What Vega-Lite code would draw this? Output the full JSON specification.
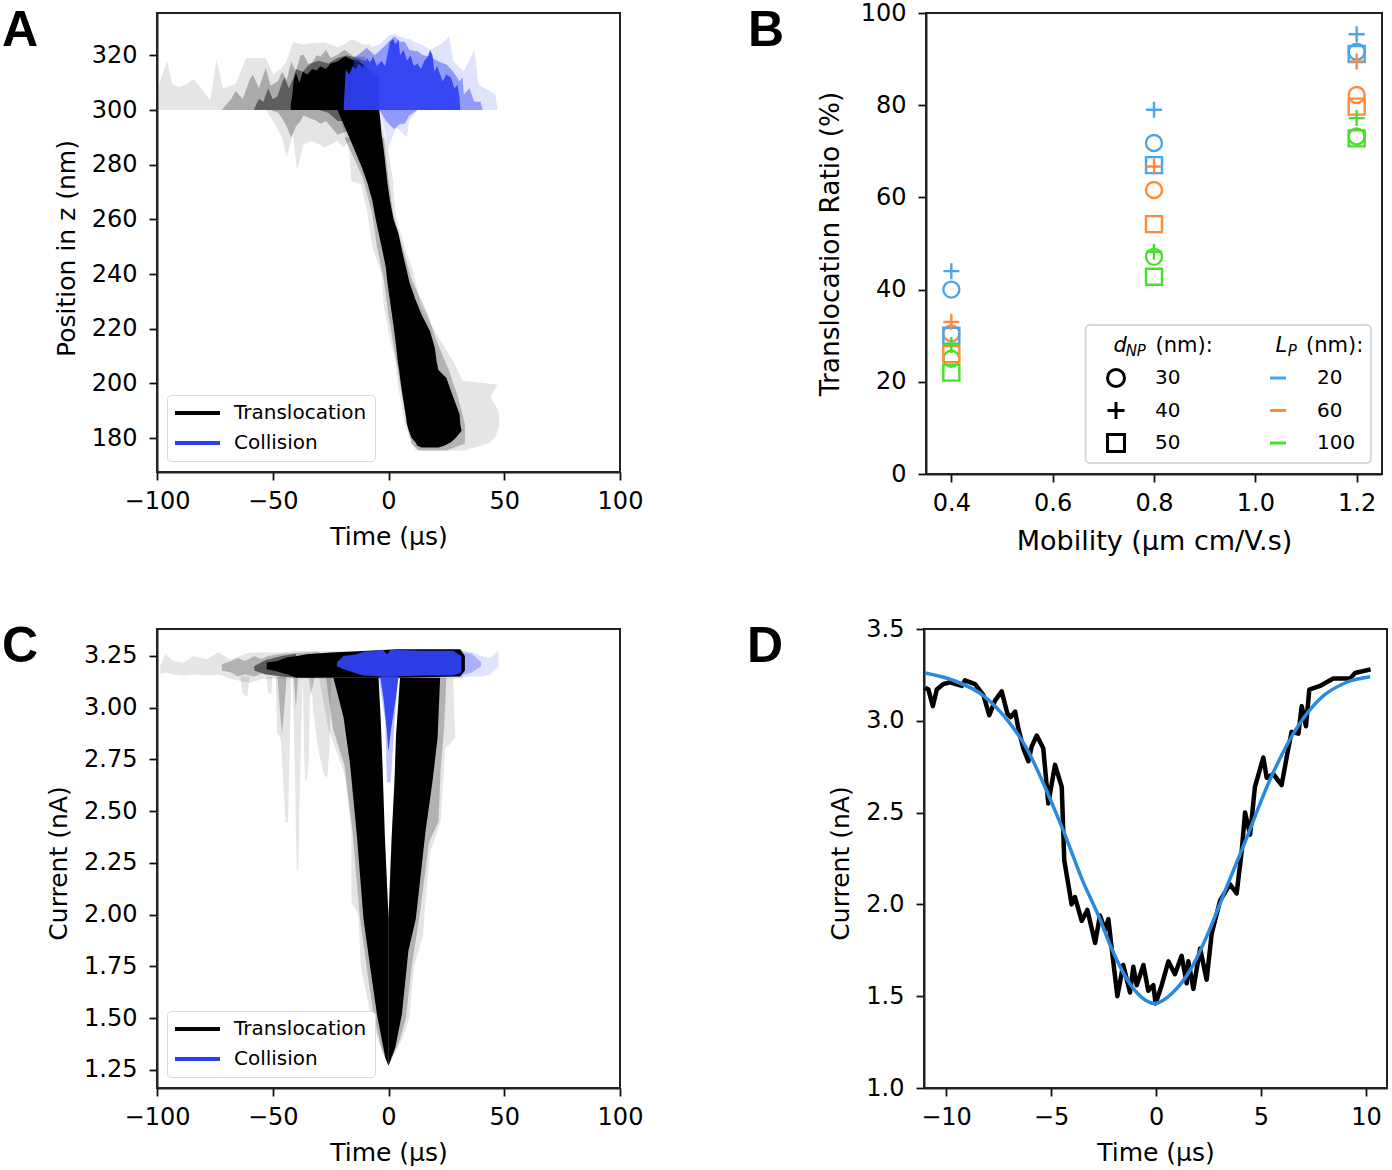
{"$schema":"https://vega.github.io/schema/vega-lite/v6.json","padding":{"left":1,"top":0,"right":0,"bottom":0},"background":"white","spacing":616,"bounds":"flush","resolve":{"scale":{"color":"independent","shape":"independent"},"legend":{"color":"independent","shape":"independent"}},
"config":{"font":"DejaVu Sans","view":{"stroke":"#222222","strokeWidth":2},"axis":{"grid":false,"domainColor":"#222222","domainWidth":2,"tickColor":"#111111","tickSize":8,"tickWidth":1.8,"labelFontSize":24,"titleFontSize":25,"labelColor":"black","titleColor":"black","titleFontWeight":"normal","labelPadding":9,"labelFlush":false,"labelOverlap":false},"axisY":{"labelPadding":12},"title":{"font":"Liberation Sans","fontSize":50,"fontWeight":"bold","anchor":"start","frame":"group","baseline":"alphabetic"}},
"vconcat":[
{"hconcat":[
{"title":{"text":"A","dx":-155,"offset":-43},"width":463,"height":459,
"encoding":{"x":{"field":"t","type":"quantitative","title":"Time (μs)","scale":{"domain":[-100,100],"nice":false},"axis":{"values":[-100,-50,0,50,100],"titlePadding":11}},"y":{"field":"z","type":"quantitative","title":"Position in z (nm)","scale":{"domain":[167.6,335.5],"nice":false},"axis":{"values":[180,200,220,240,260,280,300,320],"titlePadding":12,"titleY":235}},"color":{"field":"g","type":"nominal","scale":{"domain":["Translocation","Collision"],"range":["#000000","#2f40f2"]},"legend":{"title":null,"orient":"none","legendX":10,"legendY":382,"fillColor":"white","strokeColor":"#d3dcdc","cornerRadius":4,"padding":8,"labelFontSize":20,"labelColor":"black","symbolType":"M-1,-0.085H1V0.085H-1Z","symbolSize":2025,"symbolStrokeWidth":0,"symbolOpacity":1,"clipHeight":20,"rowPadding":10,"labelOffset":14}}},
"layer":[
{"mark":{"type":"area","fillOpacity":0.1},"encoding":{"y2":{"field":"z2"}},"data":{"values":[
{"g":"Translocation","t":-99.6,"z":300,"z2":300},{"g":"Translocation","t":-99,"z":310,"z2":300},{"g":"Translocation","t":-95.6,"z":318,"z2":300},{"g":"Translocation","t":-93.4,"z":309.5,"z2":300},{"g":"Translocation","t":-90.6,"z":308.3,"z2":300},{"g":"Translocation","t":-87,"z":309.5,"z2":300},{"g":"Translocation","t":-84.3,"z":311.4,"z2":300},{"g":"Translocation","t":-80.7,"z":307.8,"z2":300},{"g":"Translocation","t":-77,"z":303.5,"z2":300},{"g":"Translocation","t":-74.3,"z":318.5,"z2":300},{"g":"Translocation","t":-71.5,"z":308,"z2":300},{"g":"Translocation","t":-66,"z":309.5,"z2":300},{"g":"Translocation","t":-61.5,"z":319,"z2":300},{"g":"Translocation","t":-57,"z":319,"z2":300},{"g":"Translocation","t":-53,"z":319,"z2":300},{"g":"Translocation","t":-49.8,"z":313,"z2":296},{"g":"Translocation","t":-46,"z":315.6,"z2":290},{"g":"Translocation","t":-44,"z":318,"z2":282.7},{"g":"Translocation","t":-41.3,"z":324.8,"z2":291.2},{"g":"Translocation","t":-39.5,"z":324.5,"z2":277.8},{"g":"Translocation","t":-36.7,"z":324,"z2":287.5},{"g":"Translocation","t":-33,"z":324.5,"z2":288.7},{"g":"Translocation","t":-27.6,"z":324.8,"z2":286.3},{"g":"Translocation","t":-22,"z":323,"z2":288.7},{"g":"Translocation","t":-19.4,"z":324,"z2":286.3},{"g":"Translocation","t":-15.8,"z":326,"z2":290},{"g":"Translocation","t":-11,"z":324,"z2":298},{"g":"Translocation","t":-7.5,"z":323.9,"z2":300}]}},
{"mark":{"type":"area","fillOpacity":0.25},"encoding":{"y2":{"field":"z2"}},"data":{"values":[
{"g":"Translocation","t":-72,"z":300,"z2":300},{"g":"Translocation","t":-68,"z":304,"z2":300},{"g":"Translocation","t":-66,"z":307,"z2":300},{"g":"Translocation","t":-63,"z":304,"z2":300},{"g":"Translocation","t":-60,"z":311,"z2":300},{"g":"Translocation","t":-58.6,"z":313,"z2":300},{"g":"Translocation","t":-56,"z":308,"z2":300},{"g":"Translocation","t":-53,"z":315.4,"z2":300},{"g":"Translocation","t":-51,"z":309,"z2":300},{"g":"Translocation","t":-47.7,"z":310.5,"z2":299},{"g":"Translocation","t":-46,"z":314,"z2":297},{"g":"Translocation","t":-44,"z":311,"z2":294},{"g":"Translocation","t":-42,"z":317.8,"z2":290},{"g":"Translocation","t":-40,"z":314,"z2":294},{"g":"Translocation","t":-38,"z":320,"z2":296},{"g":"Translocation","t":-36.7,"z":320.2,"z2":298},{"g":"Translocation","t":-34,"z":316,"z2":297},{"g":"Translocation","t":-31,"z":320,"z2":296},{"g":"Translocation","t":-29.4,"z":319.6,"z2":295},{"g":"Translocation","t":-27,"z":322,"z2":296},{"g":"Translocation","t":-25,"z":319,"z2":294},{"g":"Translocation","t":-22,"z":320.2,"z2":291},{"g":"Translocation","t":-19,"z":322,"z2":292},{"g":"Translocation","t":-15,"z":319.6,"z2":293},{"g":"Translocation","t":-10,"z":319.6,"z2":300}]}},
{"mark":{"type":"area","fillOpacity":0.45},"encoding":{"y2":{"field":"z2"}},"data":{"values":[
{"g":"Translocation","t":-58,"z":300.5,"z2":300},{"g":"Translocation","t":-56,"z":304,"z2":300},{"g":"Translocation","t":-54,"z":303,"z2":300},{"g":"Translocation","t":-52,"z":308,"z2":300},{"g":"Translocation","t":-50,"z":304,"z2":300},{"g":"Translocation","t":-48,"z":305,"z2":300},{"g":"Translocation","t":-46,"z":310,"z2":300},{"g":"Translocation","t":-45,"z":312,"z2":300},{"g":"Translocation","t":-43,"z":308,"z2":300},{"g":"Translocation","t":-41,"z":312,"z2":300},{"g":"Translocation","t":-40,"z":315,"z2":300},{"g":"Translocation","t":-37,"z":314,"z2":300},{"g":"Translocation","t":-34,"z":317,"z2":300},{"g":"Translocation","t":-30,"z":318,"z2":300},{"g":"Translocation","t":-26,"z":317,"z2":299},{"g":"Translocation","t":-22,"z":319,"z2":296},{"g":"Translocation","t":-18,"z":320,"z2":296},{"g":"Translocation","t":-14,"z":319,"z2":298},{"g":"Translocation","t":-10,"z":318,"z2":300}]}},
{"mark":{"type":"area","fillOpacity":1},"encoding":{"y2":{"field":"z2"}},"data":{"values":[
{"g":"Translocation","t":-42.2,"z":302,"z2":300},{"g":"Translocation","t":-41.5,"z":306,"z2":300},{"g":"Translocation","t":-41,"z":310.5,"z2":300},{"g":"Translocation","t":-40,"z":313.6,"z2":300},{"g":"Translocation","t":-38.5,"z":310,"z2":300},{"g":"Translocation","t":-37,"z":314,"z2":300},{"g":"Translocation","t":-35,"z":313,"z2":300},{"g":"Translocation","t":-33,"z":315,"z2":300},{"g":"Translocation","t":-31,"z":314.5,"z2":300},{"g":"Translocation","t":-29.4,"z":316,"z2":300},{"g":"Translocation","t":-27,"z":315,"z2":300},{"g":"Translocation","t":-25,"z":317,"z2":300},{"g":"Translocation","t":-22,"z":317.8,"z2":300},{"g":"Translocation","t":-20,"z":319,"z2":300},{"g":"Translocation","t":-18.5,"z":319.6,"z2":300},{"g":"Translocation","t":-16,"z":318.5,"z2":300},{"g":"Translocation","t":-13,"z":318,"z2":300},{"g":"Translocation","t":-10,"z":316,"z2":300},{"g":"Translocation","t":-4,"z":312,"z2":300}]}},
{"mark":{"type":"area","orient":"horizontal","fillOpacity":0.1},"encoding":{"x2":{"field":"t2"}},"data":{"values":[
{"g":"Translocation","z":300,"t":-22,"t2":-4},{"g":"Translocation","z":285,"t":-17,"t2":0},{"g":"Translocation","z":274,"t":-16,"t2":2},{"g":"Translocation","z":273,"t":-12,"t2":2},{"g":"Translocation","z":262,"t":-9,"t2":3},{"g":"Translocation","z":250,"t":-7,"t2":7},{"g":"Translocation","z":240,"t":-3,"t2":11},{"g":"Translocation","z":228,"t":-2,"t2":14},{"g":"Translocation","z":215,"t":1,"t2":23},{"g":"Translocation","z":208,"t":3,"t2":28},{"g":"Translocation","z":201,"t":4,"t2":32},{"g":"Translocation","z":199.6,"t":4,"t2":47},{"g":"Translocation","z":195,"t":5,"t2":44},{"g":"Translocation","z":190,"t":6,"t2":47.5},{"g":"Translocation","z":185,"t":7,"t2":48},{"g":"Translocation","z":180,"t":9,"t2":46},{"g":"Translocation","z":178,"t":10,"t2":43},{"g":"Translocation","z":175.5,"t":12,"t2":33}]}},
{"mark":{"type":"area","orient":"horizontal","fillOpacity":0.22},"encoding":{"x2":{"field":"t2"}},"data":{"values":[
{"g":"Translocation","z":290,"t":-19,"t2":-2},{"g":"Translocation","z":275,"t":-11,"t2":0},{"g":"Translocation","z":262,"t":-7,"t2":2},{"g":"Translocation","z":250,"t":-5,"t2":6},{"g":"Translocation","z":238,"t":-2,"t2":10},{"g":"Translocation","z":225,"t":0,"t2":17},{"g":"Translocation","z":215,"t":2,"t2":21},{"g":"Translocation","z":205,"t":4,"t2":26},{"g":"Translocation","z":195,"t":6,"t2":30},{"g":"Translocation","z":185,"t":8,"t2":33},{"g":"Translocation","z":178,"t":10,"t2":33},{"g":"Translocation","z":175.5,"t":13,"t2":25}]}},
{"mark":{"type":"area","orient":"horizontal","fillOpacity":1},"encoding":{"x2":{"field":"t2"}},"data":{"values":[
{"g":"Translocation","z":300,"t":-22,"t2":-4},{"g":"Translocation","z":296,"t":-20,"t2":-3.5},{"g":"Translocation","z":291.2,"t":-17.6,"t2":-3},{"g":"Translocation","z":285.1,"t":-14.5,"t2":-2},{"g":"Translocation","z":279,"t":-11.5,"t2":-1.2},{"g":"Translocation","z":273,"t":-9,"t2":-0.4},{"g":"Translocation","z":266.9,"t":-7,"t2":0.6},{"g":"Translocation","z":260,"t":-5.5,"t2":2.2},{"g":"Translocation","z":254.8,"t":-4.2,"t2":4.3},{"g":"Translocation","z":248,"t":-2.5,"t2":6},{"g":"Translocation","z":242.7,"t":-1.2,"t2":7.5},{"g":"Translocation","z":237.2,"t":-0.5,"t2":9},{"g":"Translocation","z":231,"t":0.5,"t2":11.5},{"g":"Translocation","z":225.1,"t":1.5,"t2":14.3},{"g":"Translocation","z":219,"t":2.5,"t2":18},{"g":"Translocation","z":213,"t":3.4,"t2":20},{"g":"Translocation","z":208,"t":4,"t2":20.8},{"g":"Translocation","z":205,"t":4.6,"t2":21.5},{"g":"Translocation","z":202,"t":5,"t2":25},{"g":"Translocation","z":196,"t":6,"t2":27.5},{"g":"Translocation","z":188.7,"t":7.4,"t2":30.7},{"g":"Translocation","z":185,"t":8,"t2":31},{"g":"Translocation","z":182.7,"t":8.8,"t2":31.6},{"g":"Translocation","z":180,"t":10,"t2":29},{"g":"Translocation","z":178.5,"t":11.6,"t2":27},{"g":"Translocation","z":177.2,"t":12.5,"t2":24},{"g":"Translocation","z":176.6,"t":14.3,"t2":21.6}]}},
{"mark":{"type":"area","fillOpacity":0.15},"encoding":{"y2":{"field":"z2"}},"data":{"values":[
{"g":"Collision","t":-7.5,"z":323,"z2":300},{"g":"Collision","t":-4,"z":324,"z2":300},{"g":"Collision","t":-1.2,"z":326,"z2":291},{"g":"Collision","t":-0.3,"z":327,"z2":285.7},{"g":"Collision","t":2.5,"z":328,"z2":292},{"g":"Collision","t":3.4,"z":327.5,"z2":293.6},{"g":"Collision","t":8,"z":326,"z2":290},{"g":"Collision","t":8.8,"z":326,"z2":296},{"g":"Collision","t":12.5,"z":324.5,"z2":300},{"g":"Collision","t":14.3,"z":324,"z2":300},{"g":"Collision","t":18,"z":322,"z2":300},{"g":"Collision","t":23.4,"z":324.5,"z2":300},{"g":"Collision","t":26.2,"z":327,"z2":300},{"g":"Collision","t":28,"z":317.8,"z2":300},{"g":"Collision","t":32.5,"z":314.2,"z2":300},{"g":"Collision","t":37.1,"z":322,"z2":300},{"g":"Collision","t":38.9,"z":309.3,"z2":300},{"g":"Collision","t":41.7,"z":308,"z2":300},{"g":"Collision","t":46.2,"z":305.7,"z2":300},{"g":"Collision","t":47.1,"z":300,"z2":300}]}},
{"mark":{"type":"area","fillOpacity":0.45},"encoding":{"y2":{"field":"z2"}},"data":{"values":[
{"g":"Collision","t":-15,"z":319,"z2":300},{"g":"Collision","t":-12,"z":321,"z2":300},{"g":"Collision","t":-9.4,"z":322.7,"z2":300},{"g":"Collision","t":-6,"z":320,"z2":300},{"g":"Collision","t":-4,"z":321.5,"z2":300},{"g":"Collision","t":-1,"z":324,"z2":296},{"g":"Collision","t":2.5,"z":327,"z2":293},{"g":"Collision","t":5,"z":325,"z2":295},{"g":"Collision","t":7,"z":325,"z2":295},{"g":"Collision","t":9,"z":322,"z2":298},{"g":"Collision","t":12.5,"z":321.5,"z2":300},{"g":"Collision","t":15,"z":320,"z2":300},{"g":"Collision","t":18,"z":319.6,"z2":300},{"g":"Collision","t":21,"z":318,"z2":300},{"g":"Collision","t":25.2,"z":316.6,"z2":300},{"g":"Collision","t":28,"z":314,"z2":300},{"g":"Collision","t":30.7,"z":310.5,"z2":300},{"g":"Collision","t":32,"z":312,"z2":300},{"g":"Collision","t":32.5,"z":305.7,"z2":300},{"g":"Collision","t":35,"z":308,"z2":300},{"g":"Collision","t":37,"z":303,"z2":300},{"g":"Collision","t":39.8,"z":303,"z2":300},{"g":"Collision","t":40.7,"z":300,"z2":300}]}},
{"mark":{"type":"area","fillOpacity":0.92},"encoding":{"y2":{"field":"z2"}},"data":{"values":[
{"g":"Collision","t":-19.4,"z":300,"z2":300},{"g":"Collision","t":-18.5,"z":315,"z2":300},{"g":"Collision","t":-17,"z":313,"z2":300},{"g":"Collision","t":-15.5,"z":316,"z2":300},{"g":"Collision","t":-14,"z":315,"z2":300},{"g":"Collision","t":-13,"z":317,"z2":300},{"g":"Collision","t":-11,"z":315.5,"z2":300},{"g":"Collision","t":-9.4,"z":319,"z2":300},{"g":"Collision","t":-8,"z":317.5,"z2":300},{"g":"Collision","t":-6.6,"z":319.6,"z2":300},{"g":"Collision","t":-5,"z":316,"z2":300},{"g":"Collision","t":-3,"z":318,"z2":300},{"g":"Collision","t":-1.5,"z":316,"z2":300},{"g":"Collision","t":-0.5,"z":320,"z2":300},{"g":"Collision","t":0.6,"z":325,"z2":300},{"g":"Collision","t":2,"z":326,"z2":300},{"g":"Collision","t":3,"z":324,"z2":300},{"g":"Collision","t":4.3,"z":325.7,"z2":300},{"g":"Collision","t":5,"z":320,"z2":300},{"g":"Collision","t":6.5,"z":322,"z2":300},{"g":"Collision","t":8,"z":318,"z2":300},{"g":"Collision","t":9.5,"z":320,"z2":300},{"g":"Collision","t":11,"z":316,"z2":300},{"g":"Collision","t":12.5,"z":317,"z2":300},{"g":"Collision","t":14,"z":315,"z2":300},{"g":"Collision","t":15.5,"z":318,"z2":300},{"g":"Collision","t":17,"z":319.5,"z2":300},{"g":"Collision","t":18,"z":322,"z2":300},{"g":"Collision","t":19,"z":320,"z2":300},{"g":"Collision","t":19.8,"z":314,"z2":300},{"g":"Collision","t":21,"z":316,"z2":300},{"g":"Collision","t":23.4,"z":310.5,"z2":300},{"g":"Collision","t":25,"z":313,"z2":300},{"g":"Collision","t":27,"z":311.8,"z2":300},{"g":"Collision","t":28.5,"z":308,"z2":300},{"g":"Collision","t":29.8,"z":309.3,"z2":300},{"g":"Collision","t":30.7,"z":304.5,"z2":300},{"g":"Collision","t":31,"z":300,"z2":300}]}}
]},
{"title":{"text":"B","dx":-178,"offset":-55},"width":456,"height":461,
"encoding":{"x":{"field":"m","type":"quantitative","title":"Mobility (μm cm/V.s)","scale":{"domain":[0.35,1.25],"nice":false},"axis":{"values":[0.4,0.6,0.8,1.0,1.2],"format":".1f","titlePadding":13,"titleFontSize":27}},"y":{"field":"r","type":"quantitative","title":"Translocation Ratio (%)","scale":{"domain":[0,100],"nice":false},"axis":{"values":[0,20,40,60,80,100],"titlePadding":16,"titleFontSize":26.4}}},
"layer":[
{"data":{"values":[{"m":0.665,"m2":1.228,"r":2.4,"r2":32.3}]},"mark":{"type":"rect","fill":"white","stroke":"#d3dcdc","strokeWidth":2,"cornerRadius":4},"encoding":{"x2":{"field":"m2"},"y2":{"field":"r2"}}},
{"data":{"values":[
{"m":0.4,"r":25,"dn":"30","lp":"100"},{"m":0.4,"r":30.5,"dn":"30","lp":"60"},{"m":0.4,"r":40,"dn":"30","lp":"20"},{"m":0.8,"r":47.1,"dn":"30","lp":"100"},{"m":0.8,"r":61.6,"dn":"30","lp":"60"},{"m":0.8,"r":71.8,"dn":"30","lp":"20"},{"m":1.2,"r":73.2,"dn":"30","lp":"100"},{"m":1.2,"r":82.2,"dn":"30","lp":"60"},
{"m":0.4,"r":22,"dn":"50","lp":"100"},{"m":0.4,"r":26,"dn":"50","lp":"60"},{"m":0.4,"r":30,"dn":"50","lp":"20"},{"m":0.8,"r":42.8,"dn":"50","lp":"100"},{"m":0.8,"r":54.2,"dn":"50","lp":"60"},{"m":0.8,"r":67,"dn":"50","lp":"20"},{"m":1.2,"r":72.8,"dn":"50","lp":"100"},{"m":1.2,"r":79.7,"dn":"50","lp":"60"},{"m":1.2,"r":91.1,"dn":"50","lp":"20"},{"m":1.2,"r":91.6,"dn":"30","lp":"20"},
{"m":0.4,"r":28,"dn":"40","lp":"100"},{"m":0.4,"r":33,"dn":"40","lp":"60"},{"m":0.4,"r":44,"dn":"40","lp":"20"},{"m":0.8,"r":48.2,"dn":"40","lp":"100"},{"m":0.8,"r":66.7,"dn":"40","lp":"60"},{"m":0.8,"r":79,"dn":"40","lp":"20"},{"m":1.2,"r":77.2,"dn":"40","lp":"100"},{"m":1.2,"r":89.5,"dn":"40","lp":"60"},{"m":1.2,"r":95.4,"dn":"40","lp":"20"}]},
"mark":{"type":"point","filled":false,"size":256,"strokeWidth":2.4,"opacity":1},
"encoding":{"shape":{"field":"dn","type":"nominal","scale":{"domain":["30","40","50"],"range":["circle","M-1,0H1M0,-1V1","square"]},"legend":{"title":null,"orient":"none","legendX":180,"legendY":355,"labelFontSize":20,"labelColor":"black","symbolSize":289,"symbolStrokeColor":"black","symbolStrokeWidth":3,"symbolFillColor":"transparent","labelOffset":29,"rowPadding":12.5,"clipHeight":20,"padding":0}},
"color":{"field":"lp","type":"nominal","scale":{"domain":["20","60","100"],"range":["#4aa6ea","#ff8a3a","#45e02a"]},"legend":{"title":null,"orient":"none","legendX":342,"legendY":355,"labelFontSize":20,"labelColor":"black","symbolType":"stroke","symbolSize":256,"symbolStrokeWidth":3,"labelOffset":29,"rowPadding":12.5,"clipHeight":20,"padding":0}}}},
{"data":{"values":[{"m":0.72,"r":26.5,"s":"d"},{"m":1.04,"r":26.5,"s":"L"}]},"mark":{"type":"text","align":"left","baseline":"alphabetic","fontStyle":"italic","fontSize":21,"color":"black"},"encoding":{"text":{"field":"s"}}},
{"data":{"values":[{"m":0.744,"r":25.6,"s":"NP"},{"m":1.064,"r":25.6,"s":"P"}]},"mark":{"type":"text","align":"left","baseline":"alphabetic","fontStyle":"italic","fontSize":15,"color":"black"},"encoding":{"text":{"field":"s"}}},
{"data":{"values":[{"m":0.803,"r":26.5,"s":"(nm):"},{"m":1.1,"r":26.5,"s":"(nm):"}]},"mark":{"type":"text","align":"left","baseline":"alphabetic","fontSize":21,"color":"black"},"encoding":{"text":{"field":"s"}}}
]}
],"spacing":306,"bounds":"flush","resolve":{"scale":{"color":"independent","shape":"independent"},"legend":{"color":"independent","shape":"independent"}}},
{"hconcat":[
{"title":{"text":"C","dx":-155,"offset":-43},"width":463,"height":459,
"encoding":{"x":{"field":"t","type":"quantitative","title":"Time (μs)","scale":{"domain":[-100,100],"nice":false},"axis":{"values":[-100,-50,0,50,100],"titlePadding":11}},"y":{"field":"i","type":"quantitative","title":"Current (nA)","scale":{"domain":[1.163,3.38],"nice":false},"axis":{"values":[1.25,1.5,1.75,2,2.25,2.5,2.75,3,3.25],"format":".2f","titlePadding":12,"titleY":234}},"color":{"field":"g","type":"nominal","scale":{"domain":["Translocation","Collision"],"range":["#000000","#2f40f2"]},"legend":{"title":null,"orient":"none","legendX":10,"legendY":382,"fillColor":"white","strokeColor":"#d3dcdc","cornerRadius":4,"padding":8,"labelFontSize":20,"labelColor":"black","symbolType":"M-1,-0.085H1V0.085H-1Z","symbolSize":2025,"symbolStrokeWidth":0,"symbolOpacity":1,"clipHeight":20,"rowPadding":10,"labelOffset":14}}},
"layer":[
{"mark":{"type":"area","fillOpacity":0.1},"encoding":{"y2":{"field":"i2"}},"data":{"values":[
{"g":"Translocation","t":-98.6,"i":3.2,"i2":3.16},{"g":"Translocation","t":-96.5,"i":3.258,"i2":3.17},{"g":"Translocation","t":-92.9,"i":3.226,"i2":3.16},{"g":"Translocation","t":-88.6,"i":3.218,"i2":3.155},{"g":"Translocation","t":-84.2,"i":3.25,"i2":3.16},{"g":"Translocation","t":-78.5,"i":3.234,"i2":3.155},{"g":"Translocation","t":-73.4,"i":3.266,"i2":3.16},{"g":"Translocation","t":-68.4,"i":3.234,"i2":3.14},{"g":"Translocation","t":-60,"i":3.266,"i2":3.12},{"g":"Translocation","t":-54,"i":3.266,"i2":3.14},{"g":"Translocation","t":-46.8,"i":3.266,"i2":3.14},{"g":"Translocation","t":-39.6,"i":3.274,"i2":3.14},{"g":"Translocation","t":-25,"i":3.274,"i2":3.14},{"g":"Translocation","t":32,"i":3.28,"i2":3.14}]}},
{"mark":{"type":"area","fillOpacity":0.1},"encoding":{"y2":{"field":"i2"},"detail":{"field":"s"}},"data":{"values":[
{"g":"Translocation","s":"a","t":-48.7,"i":3.15,"i2":3.15},{"g":"Translocation","s":"a","t":-48.2,"i":2.88,"i2":3.15},{"g":"Translocation","s":"a","t":-46.5,"i":2.85,"i2":3.15},{"g":"Translocation","s":"a","t":-45.4,"i":2.62,"i2":3.15},{"g":"Translocation","s":"a","t":-44.4,"i":2.444,"i2":3.15},{"g":"Translocation","s":"a","t":-43.4,"i":2.444,"i2":3.15},{"g":"Translocation","s":"a","t":-42.6,"i":2.85,"i2":3.15},{"g":"Translocation","s":"a","t":-42,"i":3.15,"i2":3.15},
{"g":"Translocation","s":"b","t":-41.5,"i":3.15,"i2":3.15},{"g":"Translocation","s":"b","t":-40.5,"i":2.75,"i2":3.15},{"g":"Translocation","s":"b","t":-40,"i":2.4,"i2":3.15},{"g":"Translocation","s":"b","t":-39.6,"i":2.218,"i2":3.15},{"g":"Translocation","s":"b","t":-39,"i":2.218,"i2":3.15},{"g":"Translocation","s":"b","t":-38.5,"i":2.5,"i2":3.15},{"g":"Translocation","s":"b","t":-37.8,"i":2.85,"i2":3.15},{"g":"Translocation","s":"b","t":-37,"i":3.15,"i2":3.15},
{"g":"Translocation","s":"c","t":-37,"i":3.15,"i2":3.15},{"g":"Translocation","s":"c","t":-36.5,"i":2.8,"i2":3.15},{"g":"Translocation","s":"c","t":-36,"i":2.65,"i2":3.15},{"g":"Translocation","s":"c","t":-35.3,"i":2.65,"i2":3.15},{"g":"Translocation","s":"c","t":-34.4,"i":2.75,"i2":3.15},{"g":"Translocation","s":"c","t":-33.8,"i":3.15,"i2":3.15},
{"g":"Translocation","s":"d","t":-33.5,"i":3.15,"i2":3.15},{"g":"Translocation","s":"d","t":-32.5,"i":2.98,"i2":3.15},{"g":"Translocation","s":"d","t":-31,"i":2.85,"i2":3.15},{"g":"Translocation","s":"d","t":-30,"i":2.78,"i2":3.15},{"g":"Translocation","s":"d","t":-28,"i":2.68,"i2":3.15},{"g":"Translocation","s":"d","t":-26.5,"i":2.66,"i2":3.15},{"g":"Translocation","s":"d","t":-25.5,"i":2.8,"i2":3.15},{"g":"Translocation","s":"d","t":-24.7,"i":3.15,"i2":3.15},
{"g":"Translocation","s":"e","t":-64,"i":3.15,"i2":3.15},{"g":"Translocation","s":"e","t":-63,"i":3.07,"i2":3.15},{"g":"Translocation","s":"e","t":-61,"i":3.05,"i2":3.15},{"g":"Translocation","s":"e","t":-60,"i":3.15,"i2":3.15},
{"g":"Translocation","s":"f","t":-52.7,"i":3.15,"i2":3.15},{"g":"Translocation","s":"f","t":-52,"i":3.07,"i2":3.15},{"g":"Translocation","s":"f","t":-50.5,"i":3.07,"i2":3.15},{"g":"Translocation","s":"f","t":-50.2,"i":3.15,"i2":3.15}]}},
{"mark":{"type":"area","fillOpacity":0.22},"encoding":{"y2":{"field":"i2"},"detail":{"field":"s"}},"data":{"values":[
{"g":"Translocation","s":"a","t":-72,"i":3.21,"i2":3.18},{"g":"Translocation","s":"a","t":-68,"i":3.225,"i2":3.17},{"g":"Translocation","s":"a","t":-65,"i":3.24,"i2":3.15},{"g":"Translocation","s":"a","t":-62,"i":3.225,"i2":3.16},{"g":"Translocation","s":"a","t":-58,"i":3.25,"i2":3.15},{"g":"Translocation","s":"a","t":-55,"i":3.235,"i2":3.165},{"g":"Translocation","s":"a","t":-52,"i":3.25,"i2":3.16},{"g":"Translocation","s":"a","t":-46,"i":3.26,"i2":3.15},{"g":"Translocation","s":"a","t":-30,"i":3.27,"i2":3.145},
{"g":"Translocation","s":"b","t":-48,"i":3.15,"i2":3.15},{"g":"Translocation","s":"b","t":-47,"i":3,"i2":3.15},{"g":"Translocation","s":"b","t":-46,"i":2.87,"i2":3.15},{"g":"Translocation","s":"b","t":-45,"i":3,"i2":3.15},{"g":"Translocation","s":"b","t":-44,"i":3.15,"i2":3.15},
{"g":"Translocation","s":"c","t":-34.5,"i":3.15,"i2":3.15},{"g":"Translocation","s":"c","t":-33.5,"i":3.06,"i2":3.15},{"g":"Translocation","s":"c","t":-32,"i":3.15,"i2":3.15},
{"g":"Translocation","s":"d","t":-41,"i":3.15,"i2":3.15},{"g":"Translocation","s":"d","t":-40,"i":3,"i2":3.15},{"g":"Translocation","s":"d","t":-39,"i":3.15,"i2":3.15}]}},
{"mark":{"type":"area","fillOpacity":0.5},"encoding":{"y2":{"field":"i2"}},"data":{"values":[
{"g":"Translocation","t":-58,"i":3.2,"i2":3.18},{"g":"Translocation","t":-53,"i":3.23,"i2":3.16},{"g":"Translocation","t":-46,"i":3.25,"i2":3.15},{"g":"Translocation","t":-40,"i":3.26,"i2":3.145}]}},
{"mark":{"type":"area","orient":"horizontal","fillOpacity":0.1},"encoding":{"x2":{"field":"t2"},"detail":{"field":"s"}},"data":{"values":[
{"g":"Translocation","s":"l","i":3.145,"t":-30,"t2":-5},{"g":"Translocation","s":"l","i":2.9,"t":-26,"t2":-4},{"g":"Translocation","s":"l","i":2.68,"t":-19,"t2":-3},{"g":"Translocation","s":"l","i":2.4,"t":-16,"t2":-2},{"g":"Translocation","s":"l","i":2.06,"t":-16,"t2":-1},{"g":"Translocation","s":"l","i":2,"t":-13,"t2":0},{"g":"Translocation","s":"l","i":1.75,"t":-12,"t2":0},{"g":"Translocation","s":"l","i":1.5,"t":-7.5,"t2":0},{"g":"Translocation","s":"l","i":1.38,"t":-4,"t2":0},{"g":"Translocation","s":"l","i":1.27,"t":0,"t2":0},
{"g":"Translocation","s":"r","i":3.145,"t":5,"t2":28},{"g":"Translocation","s":"r","i":2.855,"t":3.5,"t2":28.8},{"g":"Translocation","s":"r","i":2.8,"t":3.2,"t2":24.5},{"g":"Translocation","s":"r","i":2.45,"t":1.6,"t2":22.5},{"g":"Translocation","s":"r","i":2.3,"t":1,"t2":18},{"g":"Translocation","s":"r","i":2,"t":0,"t2":15.5},{"g":"Translocation","s":"r","i":1.9,"t":0,"t2":15},{"g":"Translocation","s":"r","i":1.75,"t":0,"t2":11},{"g":"Translocation","s":"r","i":1.5,"t":0,"t2":9},{"g":"Translocation","s":"r","i":1.4,"t":0,"t2":6},{"g":"Translocation","s":"r","i":1.27,"t":0,"t2":0}]}},
{"mark":{"type":"area","orient":"horizontal","fillOpacity":0.22},"encoding":{"x2":{"field":"t2"},"detail":{"field":"s"}},"data":{"values":[
{"g":"Translocation","s":"l","i":3.145,"t":-27,"t2":-5},{"g":"Translocation","s":"l","i":2.9,"t":-24,"t2":-4},{"g":"Translocation","s":"l","i":2.72,"t":-19,"t2":-3},{"g":"Translocation","s":"l","i":2.4,"t":-15.5,"t2":-2},{"g":"Translocation","s":"l","i":2,"t":-12.5,"t2":0},{"g":"Translocation","s":"l","i":1.75,"t":-9.5,"t2":0},{"g":"Translocation","s":"l","i":1.52,"t":-6.5,"t2":0},{"g":"Translocation","s":"l","i":1.35,"t":-3,"t2":0},{"g":"Translocation","s":"l","i":1.27,"t":0,"t2":0},
{"g":"Translocation","s":"r","i":3.145,"t":5,"t2":25},{"g":"Translocation","s":"r","i":2.9,"t":3.5,"t2":24},{"g":"Translocation","s":"r","i":2.7,"t":3,"t2":22.5},{"g":"Translocation","s":"r","i":2.45,"t":1.8,"t2":21.6},{"g":"Translocation","s":"r","i":2.35,"t":1.2,"t2":17.5},{"g":"Translocation","s":"r","i":2,"t":0,"t2":13.5},{"g":"Translocation","s":"r","i":1.75,"t":0,"t2":10},{"g":"Translocation","s":"r","i":1.5,"t":0,"t2":7.5},{"g":"Translocation","s":"r","i":1.4,"t":0,"t2":5},{"g":"Translocation","s":"r","i":1.27,"t":0,"t2":0}]}},
{"mark":{"type":"area","fillOpacity":0.15},"encoding":{"y2":{"field":"i2"}},"data":{"values":[
{"g":"Collision","t":30,"i":3.28,"i2":3.145},{"g":"Collision","t":36,"i":3.27,"i2":3.15},{"g":"Collision","t":40,"i":3.25,"i2":3.15},{"g":"Collision","t":44,"i":3.24,"i2":3.16},{"g":"Collision","t":47.5,"i":3.275,"i2":3.2}]}},
{"mark":{"type":"area","fillOpacity":0.3},"encoding":{"y2":{"field":"i2"}},"data":{"values":[
{"g":"Collision","t":30,"i":3.27,"i2":3.15},{"g":"Collision","t":36,"i":3.26,"i2":3.17},{"g":"Collision","t":40,"i":3.22,"i2":3.2}]}},
{"mark":{"type":"area","fillOpacity":1},"encoding":{"y2":{"field":"i2"}},"data":{"values":[
{"g":"Translocation","t":-52.6,"i":3.218,"i2":3.185},{"g":"Translocation","t":-48,"i":3.225,"i2":3.175},{"g":"Translocation","t":-44,"i":3.242,"i2":3.161},{"g":"Translocation","t":-39.6,"i":3.25,"i2":3.145},{"g":"Translocation","t":-35.3,"i":3.258,"i2":3.145},{"g":"Translocation","t":-25,"i":3.266,"i2":3.145},{"g":"Translocation","t":-10.8,"i":3.274,"i2":3.145},{"g":"Translocation","t":3.6,"i":3.282,"i2":3.145},{"g":"Translocation","t":31,"i":3.282,"i2":3.15},{"g":"Translocation","t":33,"i":3.25,"i2":3.18}]}},
{"mark":{"type":"area","orient":"horizontal","fillOpacity":1},"encoding":{"x2":{"field":"t2"},"detail":{"field":"s"}},"data":{"values":[
{"g":"Translocation","s":"l","i":3.145,"t":-23.8,"t2":-4.3},{"g":"Translocation","s":"l","i":2.952,"t":-19.4,"t2":-3.4},{"g":"Translocation","s":"l","i":2.726,"t":-16.6,"t2":-2.6},{"g":"Translocation","s":"l","i":2.387,"t":-13.7,"t2":-1.6},{"g":"Translocation","s":"l","i":1.98,"t":-10.8,"t2":0},{"g":"Translocation","s":"l","i":1.745,"t":-7.9,"t2":0},{"g":"Translocation","s":"l","i":1.52,"t":-5,"t2":0},{"g":"Translocation","s":"l","i":1.31,"t":-1.4,"t2":0},{"g":"Translocation","s":"l","i":1.27,"t":0,"t2":0},
{"g":"Translocation","s":"r","i":3.145,"t":5,"t2":22.3},{"g":"Translocation","s":"r","i":2.855,"t":3.2,"t2":21.2},{"g":"Translocation","s":"r","i":2.645,"t":2.6,"t2":19},{"g":"Translocation","s":"r","i":2.403,"t":1.5,"t2":16},{"g":"Translocation","s":"r","i":1.98,"t":0,"t2":11.8},{"g":"Translocation","s":"r","i":1.826,"t":0,"t2":8.6},{"g":"Translocation","s":"r","i":1.52,"t":0,"t2":5.8},{"g":"Translocation","s":"r","i":1.358,"t":0,"t2":2.9},{"g":"Translocation","s":"r","i":1.27,"t":0,"t2":0}]}},
{"mark":{"type":"area","fillOpacity":0.95},"encoding":{"y2":{"field":"i2"}},"data":{"values":[
{"g":"Collision","t":-22.3,"i":3.22,"i2":3.2},{"g":"Collision","t":-19.4,"i":3.25,"i2":3.185},{"g":"Collision","t":-13.7,"i":3.258,"i2":3.165},{"g":"Collision","t":-10.8,"i":3.27,"i2":3.155},{"g":"Collision","t":-2.2,"i":3.28,"i2":3.15},{"g":"Collision","t":-0.7,"i":3.258,"i2":3.15},{"g":"Collision","t":1,"i":3.28,"i2":3.15},{"g":"Collision","t":15,"i":3.275,"i2":3.155},{"g":"Collision","t":28,"i":3.275,"i2":3.155},{"g":"Collision","t":31.5,"i":3.25,"i2":3.17}]}},
{"mark":{"type":"area","orient":"horizontal","fillOpacity":0.3},"encoding":{"x2":{"field":"t2"}},"data":{"values":[
{"g":"Collision","i":3.15,"t":-4.3,"t2":4.3},{"g":"Collision","i":2.935,"t":-1.4,"t2":2.6},{"g":"Collision","i":2.645,"t":-0.7,"t2":1},{"g":"Collision","i":2.637,"t":-0.3,"t2":0.4}]}},
{"mark":{"type":"area","orient":"horizontal","fillOpacity":0.95},"encoding":{"x2":{"field":"t2"}},"data":{"values":[
{"g":"Collision","i":3.15,"t":-3.6,"t2":4.3},{"g":"Collision","i":3.048,"t":-2.2,"t2":3.2},{"g":"Collision","i":2.887,"t":-0.7,"t2":1},{"g":"Collision","i":2.798,"t":-0.1,"t2":0.1}]}}
]},
{"title":{"text":"D","dx":-177,"offset":-55},"width":463,"height":459,
"encoding":{"x":{"field":"t","type":"quantitative","title":"Time (μs)","scale":{"domain":[-11.05,11],"nice":false},"axis":{"values":[-10,-5,0,5,10],"titlePadding":11}},"y":{"field":"i","type":"quantitative","title":"Current (nA)","scale":{"domain":[1,3.5],"nice":false},"axis":{"values":[1,1.5,2,2.5,3,3.5],"format":".1f","titlePadding":12,"titleY":234}}},
"layer":[
{"mark":{"type":"line","color":"black","strokeWidth":4.5,"strokeJoin":"round"},"data":{"values":[
{"t":-11,"i":3.18},{"t":-10.84,"i":3.17},{"t":-10.63,"i":3.08},{"t":-10.44,"i":3.17},{"t":-10.13,"i":3.2},{"t":-9.81,"i":3.21},{"t":-9.25,"i":3.19},{"t":-9.1,"i":3.22},{"t":-8.62,"i":3.2},{"t":-8.22,"i":3.14},{"t":-7.94,"i":3.03},{"t":-7.67,"i":3.11},{"t":-7.35,"i":3.16},{"t":-7.08,"i":3.04},{"t":-6.92,"i":3.02},{"t":-6.71,"i":3.05},{"t":-6.56,"i":2.96},{"t":-6.32,"i":2.85},{"t":-6.08,"i":2.78},{"t":-5.92,"i":2.86},{"t":-5.68,"i":2.92},{"t":-5.37,"i":2.85},{"t":-5.13,"i":2.55},{"t":-4.81,"i":2.76},{"t":-4.49,"i":2.64},{"t":-4.37,"i":2.24},{"t":-4.18,"i":2.11},{"t":-4.02,"i":2},{"t":-3.86,"i":2.04},{"t":-3.54,"i":1.91},{"t":-3.27,"i":1.97},{"t":-2.9,"i":1.79},{"t":-2.67,"i":1.94},{"t":-2.43,"i":1.86},{"t":-2.27,"i":1.92},{"t":-2.11,"i":1.76},{"t":-1.84,"i":1.5},{"t":-1.56,"i":1.67},{"t":-1.24,"i":1.52},{"t":-1.08,"i":1.66},{"t":-0.92,"i":1.56},{"t":-0.6,"i":1.67},{"t":-0.37,"i":1.53},{"t":-0.13,"i":1.56},{"t":-0.02,"i":1.46},{"t":0.27,"i":1.56},{"t":0.59,"i":1.69},{"t":0.9,"i":1.62},{"t":1.22,"i":1.72},{"t":1.46,"i":1.57},{"t":1.54,"i":1.69},{"t":1.78,"i":1.54},{"t":2.1,"i":1.76},{"t":2.41,"i":1.59},{"t":2.65,"i":1.84},{"t":3.05,"i":2.02},{"t":3.52,"i":2.11},{"t":3.84,"i":2.06},{"t":4.08,"i":2.29},{"t":4.24,"i":2.5},{"t":4.48,"i":2.38},{"t":4.71,"i":2.64},{"t":5.11,"i":2.8},{"t":5.27,"i":2.69},{"t":5.59,"i":2.71},{"t":5.98,"i":2.65},{"t":6.3,"i":2.85},{"t":6.46,"i":2.94},{"t":6.78,"i":2.93},{"t":6.94,"i":3.08},{"t":7.14,"i":2.97},{"t":7.3,"i":3.17},{"t":7.81,"i":3.19},{"t":8.44,"i":3.23},{"t":9.24,"i":3.23},{"t":9.48,"i":3.26},{"t":10.22,"i":3.28}]}},
{"mark":{"type":"line","color":"#2b8ae0","strokeWidth":3.5,"interpolate":"monotone"},"data":{"values":[
{"t":-11,"i":3.26},{"t":-9.65,"i":3.22},{"t":-8.2,"i":3.135},{"t":-7.05,"i":3},{"t":-6.16,"i":2.85},{"t":-5.14,"i":2.6},{"t":-4.41,"i":2.4},{"t":-3.46,"i":2.12},{"t":-2.67,"i":1.92},{"t":-2.19,"i":1.78},{"t":-1.57,"i":1.63},{"t":-0.92,"i":1.52},{"t":-0.05,"i":1.46},{"t":0.8,"i":1.52},{"t":1.62,"i":1.64},{"t":2.43,"i":1.83},{"t":3.38,"i":2.1},{"t":4.24,"i":2.34},{"t":5.43,"i":2.68},{"t":6.7,"i":2.96},{"t":7.81,"i":3.12},{"t":9.08,"i":3.21},{"t":10.2,"i":3.24}]}}
]}
],"spacing":304,"bounds":"flush","resolve":{"scale":{"color":"independent","shape":"independent"},"legend":{"color":"independent","shape":"independent"}}}
]}
